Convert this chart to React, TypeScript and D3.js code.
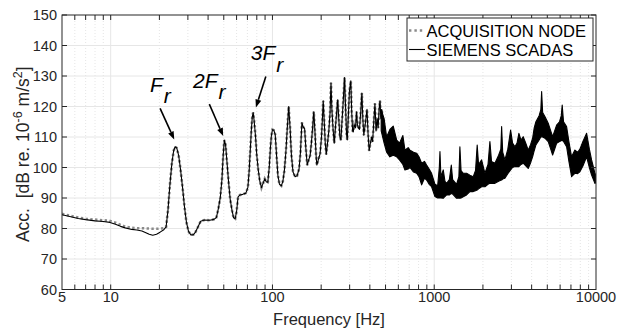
import React from 'react';
import * as d3 from 'd3';

const W = 619;
const H = 335;
const plot = { left: 62, right: 596, top: 15, bottom: 289.5 };

const FONT = '"Liberation Sans", Arial, Helvetica, sans-serif';
const INK = '#262626';

// Axis ticks
const xTickValues = [5, 10, 100, 1000, 10000];
const xTickLabels = ['5', '10', '100', '1000', '10000'];
const yTickValues = [60, 70, 80, 90, 100, 110, 120, 130, 140, 150];

// Low-frequency part where the two recorders differ (Hz, dB)
const scadasLowFreq = [5, 5.5, 6.3, 7, 8, 9, 9.9, 10.7, 11.5, 12.3, 13.5, 14.5, 15.6, 16.5, 17.3, 18.2, 19.2, 20.2, 21.3];
const scadasLowDb = [84.5, 84.0, 83.3, 82.9, 82.5, 82.3, 82.0, 81.4, 80.7, 80.2, 79.7, 79.5, 79.2, 78.6, 78.1, 77.8, 78.1, 78.8, 79.6];

const nodeLowFreq = [5, 5.5, 6.3, 7, 8, 9, 9.7, 10.7, 11.5, 12.3, 13.5, 14.5, 15.6, 17, 18.2, 19.5, 20.5, 21.3];
const nodeLowDb = [84.8, 84.3, 83.6, 83.2, 82.9, 82.7, 82.6, 81.9, 81.2, 80.6, 80.2, 80.1, 80.1, 80.0, 79.9, 79.9, 80.0, 80.1];

// Common trace of both recorders, 22-480 Hz (Hz, dB)
const midFreq = [
  22.0, 22.6, 23.2, 23.9, 24.5, 25.0, 25.6, 26.3, 27.0, 27.8, 28.6, 29.4, 30.3, 31.3, 32.5, 33.5, 34.5, 36.0, 38.0, 41.0,
  43.5, 45.0, 46.3, 47.6, 48.7, 49.6, 50.4, 51.3, 52.3, 53.5, 54.8, 56.2, 57.5, 58.8, 60.0, 61.3, 63.0, 65.5, 68.5, 70.5,
  71.8, 72.8, 74.0, 75.0, 76.0, 77.0, 78.5, 80.0, 81.7, 83.5, 85.5, 87.5, 89.6, 91.5, 93.6, 95.5, 97.0, 98.5, 100, 102,
  104, 106, 108, 110.5, 113.5, 116, 118.5, 121, 123.5, 126, 128.5, 131, 134, 138, 142, 146, 149, 152, 155, 158,
  161, 164, 167.5, 171, 174, 177, 180, 183, 186, 188, 192, 197, 201, 204, 206, 209, 212, 215, 219, 223,
  227, 230, 233, 237, 241, 245, 249, 253, 257, 261, 265, 269, 274, 279, 283, 287, 290, 294, 299, 305,
  309, 313, 316, 320, 326, 331, 335, 340, 345, 351, 357, 362, 367, 372, 378, 384, 390, 396, 403, 410,
  416, 423, 430, 437, 444, 450, 456, 462, 468, 474, 480,
];
const midDb = [
  80.5, 86, 94, 101.5, 105.5, 106.8, 106.4, 104, 99.5, 93.5, 87, 82, 79, 77.9, 78.0, 78.9, 80.3, 82.4, 82.8, 82.7,
  83.0, 83.6, 86.5, 90.2, 96, 104, 109.0, 107.5, 102, 95.5, 89.5, 86, 83.5, 83.2, 85.5, 90.4, 91.0, 91.2, 91.6, 93.5,
  99, 105, 112, 116.5, 118.0, 115.5, 110.5, 104, 99.2, 95.5, 93.4, 94.8, 96.3, 95.3, 95.2, 100, 106, 110.5, 112.4, 112.2,
  110.8, 104, 97.5, 94.5, 94.0, 95.5, 99, 105, 113, 120.0, 113, 104, 98.5, 97.0, 97.3, 99.5, 105, 114.7, 113.2, 112.8,
  106, 100.8, 102.5, 104, 108, 113, 118.3, 112, 104, 100.8, 102.5, 104.5, 110, 117, 121.9, 115, 108, 104.3, 108, 112,
  118, 127.8, 119, 112.5, 108, 113, 117.8, 122.2, 116, 110, 109, 115, 122, 129.5, 120, 111, 109, 116, 125, 128.4,
  118, 112, 111.7, 114, 113, 118.3, 114, 113, 112.5, 118, 124.4, 116, 110.6, 113, 116, 119.1, 111, 105.5, 108, 110,
  108.5, 115, 121.0, 112, 116, 113, 119, 121.9, 116, 119, 114,
];

// SCADAS above ~470 Hz: dense spectrum, lower and upper envelope (Hz, dB)
const bandFreq = [
  470, 490, 508, 532, 558, 586, 610, 640, 659, 690, 708, 745, 778, 805, 836, 870, 897, 930, 963, 1010,
  1050, 1075, 1085, 1100, 1137, 1165, 1193, 1240, 1275, 1300, 1375, 1420, 1441, 1465, 1511, 1585, 1662, 1742, 1800, 1843,
  1880, 1963, 2058, 2150, 2209, 2260, 2372, 2500, 2580, 2610, 2650, 2735, 2850, 2966, 3050, 3153, 3250, 3337, 3440, 3548,
  3680, 3810, 3940, 4056, 4150, 4251, 4450, 4560, 4612, 4680, 4833, 5065, 5250, 5392, 5550, 5708, 5950, 6100, 6181, 6300,
  6580, 6800, 7064, 7404, 7700, 7951, 8300, 8750, 9100, 9391, 9650, 9845, 10000,
];
const bandLo = [
  112, 108, 105, 103.5, 104, 103.5, 102.5, 101, 99.2, 99.5, 100, 98.5, 98.1, 97, 94.3, 96.5, 95.9, 94.5, 93.7, 90.5,
  90, 90, 90, 90, 89.9, 90.5, 91, 91, 91.5, 91.3, 89.9, 90, 89.9, 90, 90.4, 91, 92.1, 92.1, 92.4, 92.6,
  93, 93.7, 93.7, 94.5, 94.8, 94.8, 94.8, 95.5, 95.8, 95.9, 96.2, 96.5, 98, 99.2, 100, 100.3, 100.3, 100.3, 101, 101.4,
  100.5, 99.7, 101.5, 103.5, 105.5, 107.4, 109, 110, 110.1, 110, 109.6, 108.5, 106, 104.1, 106, 107.9, 108.5, 108.8, 109, 108.5,
  106.8, 102, 97.0, 98.1, 98, 98.6, 100.5, 103.5, 100, 97.5, 96, 94.8, 95,
];
const bandHi = [
  119, 116, 110, 112.5, 113.6, 109, 108, 110.5, 105.7, 106.5, 105.7, 105, 104.7, 103.5, 101.4, 102, 100.8, 99.5, 98.1, 94.5,
  94, 100, 105.2, 97, 99.2, 95.5, 94.8, 96, 100.8, 96, 94.5, 97, 106.8, 99, 98.1, 98.1, 97.5, 97.0, 99, 107.4,
  101, 102.5, 98.1, 101, 108.5, 102, 101.4, 104, 106, 113.4, 105, 102.5, 106, 112.3, 108, 106.8, 108, 111.2, 109, 110.1,
  108, 105.7, 107.5, 109.6, 113, 115.0, 117, 119, 124.9, 118, 116.7, 114.5, 112, 110.1, 112, 113.9, 115, 117, 120.5, 115,
  113.4, 108.5, 103.5, 105.7, 105, 106, 108.5, 111.2, 106, 102.5, 100, 98.1, 97.5,
];

const legendLabels = ['ACQUISITION NODE', 'SIEMENS SCADAS'];

// Harmonic call-outs: label anchor and arrow tail/tip in data units
const harmonicPrefix = ['', '2', '3'];
const harmonicTextFreq = [17.5, 32.3, 73.4];
const harmonicTextDb = [124.8, 126.1, 135.2];
const harmonicTailFreq = [20.2, 40.7, 91.0];
const harmonicTailDb = [119.4, 120.8, 129.8];
const harmonicTipFreq = [24.7, 49.6, 79.0];
const harmonicTipDb = [109.2, 110.3, 119.7];

type Pt = [number, number];
const zip = (f: number[], v: number[]): Pt[] => f.map((d, i) => [d, v[i]]);

export default function App() {
  const x = d3.scaleLog().domain([5, 10000]).range([plot.left, plot.right]);
  const y = d3.scaleLinear().domain([60, 150]).range([plot.bottom, plot.top]);

  const nodeData = [...zip(nodeLowFreq, nodeLowDb), ...zip(midFreq, midDb)];
  const scadasData = [...zip(scadasLowFreq, scadasLowDb), ...zip(midFreq, midDb)];
  const bandData = bandFreq.map((f, i) => ({ f, lo: bandLo[i], hi: bandHi[i] }));

  const line = d3
    .line<Pt>()
    .x((d) => x(d[0]))
    .y((d) => y(d[1]));
  const area = d3
    .area<{ f: number; lo: number; hi: number }>()
    .x((d) => x(d.f))
    .y0((d) => y(d.lo))
    .y1((d) => y(d.hi));

  const minorX: number[] = [];
  [1, 10, 100, 1000].forEach((dec) => {
    for (let k = 2; k <= 9; k++) {
      const v = k * dec;
      if (v > 5 && v < 10000) minorX.push(v);
    }
  });
  const majorX = [10, 100, 1000];
  const tickLen = 5;

  const legend = { x0: 407, y0: 18, x1: 593, y1: 61 };

  return (
    <svg
      width={W}
      height={H}
      viewBox={`0 0 ${W} ${H}`}
      style={{ position: 'absolute', left: 0, top: 0, background: '#fff' }}
      fontFamily={FONT}
    >
      <rect x={0} y={0} width={W} height={H} fill="#fff" />
      <defs>
        <clipPath id="plotClip">
          <rect x={plot.left} y={plot.top} width={plot.right - plot.left} height={plot.bottom - plot.top} />
        </clipPath>
      </defs>

      {/* grid */}
      <g>
        {minorX.map((v) => (
          <line key={`mx${v}`} x1={x(v)} x2={x(v)} y1={plot.top} y2={plot.bottom} stroke="#d4d4d4" strokeWidth={0.6} strokeDasharray="1 2" />
        ))}
        {majorX.map((v) => (
          <line key={`gx${v}`} x1={x(v)} x2={x(v)} y1={plot.top} y2={plot.bottom} stroke="#e6e6e6" strokeWidth={1} />
        ))}
        {yTickValues.slice(1, -1).map((v) => (
          <line key={`gy${v}`} x1={plot.left} x2={plot.right} y1={y(v)} y2={y(v)} stroke="#e6e6e6" strokeWidth={1} />
        ))}
      </g>

      {/* data */}
      <g clipPath="url(#plotClip)">
        <path d={line(nodeData) ?? ''} fill="none" stroke="#8a8a8a" strokeWidth={2.6} strokeDasharray="2.4 2.4" />
        <path d={line(scadasData) ?? ''} fill="none" stroke="#000" strokeWidth={1.1} strokeLinejoin="round" />
        <path d={area(bandData) ?? ''} fill="#000" stroke="#000" strokeWidth={1.1} strokeLinejoin="round" />
      </g>

      {/* axes box and ticks */}
      <g stroke={INK} strokeWidth={1} fill="none">
        <rect x={plot.left} y={plot.top} width={plot.right - plot.left} height={plot.bottom - plot.top} />
        {[...majorX, ...minorX].map((v) => (
          <g key={`tx${v}`}>
            <line x1={x(v)} x2={x(v)} y1={plot.bottom} y2={plot.bottom - tickLen} />
            <line x1={x(v)} x2={x(v)} y1={plot.top} y2={plot.top + tickLen} />
          </g>
        ))}
        {yTickValues.map((v) => (
          <g key={`ty${v}`}>
            <line x1={plot.left} x2={plot.left + tickLen} y1={y(v)} y2={y(v)} />
            <line x1={plot.right} x2={plot.right - tickLen} y1={y(v)} y2={y(v)} />
          </g>
        ))}
      </g>

      {/* tick labels */}
      <g fill={INK} fontSize={14.5}>
        {xTickValues.map((v, i) => (
          <text key={`xl${v}`} x={x(v)} y={plot.bottom + 12.5} textAnchor="middle">
            {xTickLabels[i]}
          </text>
        ))}
        {yTickValues.map((v) => (
          <text key={`yl${v}`} x={plot.left - 5} y={y(v) + 5} textAnchor="end">
            {v}
          </text>
        ))}
      </g>

      {/* axis titles */}
      <text x={(plot.left + plot.right) / 2} y={324.5} textAnchor="middle" fontSize={16.5} fill={INK}>
        Frequency [Hz]
      </text>
      <text
        transform={`translate(28.5, ${(plot.top + plot.bottom) / 2 + 2}) rotate(-90)`}
        textAnchor="middle"
        fontSize={17.5}
        fill={INK}
        style={{ whiteSpace: 'pre' }}
      >
        {'Acc.  [dB re. 10'}
        <tspan dy={-7} fontSize={12.5}>-6</tspan>
        <tspan dy={7}>{' m/s'}</tspan>
        <tspan dy={-7} fontSize={12.5}>2</tspan>
        <tspan dy={7}>]</tspan>
      </text>

      {/* harmonic call-outs */}
      <g>
        {harmonicPrefix.map((p, i) => {
          const tx = x(harmonicTailFreq[i]);
          const ty = y(harmonicTailDb[i]);
          const hx = x(harmonicTipFreq[i]);
          const hy = y(harmonicTipDb[i]);
          const ang = Math.atan2(hy - ty, hx - tx);
          const hl = 8;
          const hw = 3;
          const bx = hx - hl * Math.cos(ang);
          const by = hy - hl * Math.sin(ang);
          const px = -Math.sin(ang) * hw;
          const py = Math.cos(ang) * hw;
          return (
            <g key={`h${i}`}>
              <line x1={tx} y1={ty} x2={bx} y2={by} stroke="#000" strokeWidth={1.6} />
              <polygon points={`${hx},${hy} ${bx + px},${by + py} ${bx - px},${by - py}`} fill="#000" />
              <text x={x(harmonicTextFreq[i])} y={y(harmonicTextDb[i])} fontSize={21} fontStyle="italic" fill="#000">
                {p + 'F'}
                <tspan dy={11.5} dx={1}>r</tspan>
              </text>
            </g>
          );
        })}
      </g>

      {/* legend */}
      <g>
        <rect x={legend.x0} y={legend.y0} width={legend.x1 - legend.x0} height={legend.y1 - legend.y0} fill="#fff" stroke={INK} strokeWidth={1} />
        <line x1={legend.x0 + 2} x2={legend.x0 + 18} y1={legend.y0 + 12.5} y2={legend.y0 + 12.5} stroke="#8a8a8a" strokeWidth={2.6} strokeDasharray="2.4 3" />
        <line x1={legend.x0 + 2} x2={legend.x0 + 18} y1={legend.y0 + 31.5} y2={legend.y0 + 31.5} stroke="#000" strokeWidth={1.1} />
        {legendLabels.map((l, i) => (
          <text key={l} x={legend.x0 + 19.5} y={legend.y0 + 18.5 + i * 19} fontSize={16.5} fill="#000">
            {l}
          </text>
        ))}
      </g>
    </svg>
  );
}
